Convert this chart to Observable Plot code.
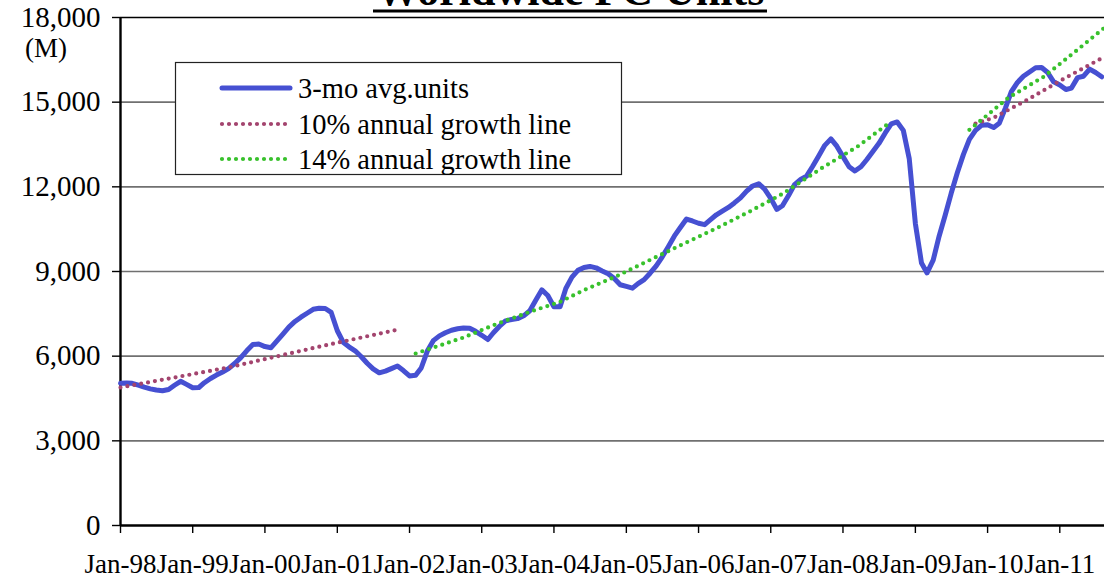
<!DOCTYPE html>
<html>
<head>
<meta charset="utf-8">
<script src="https://cdn.jsdelivr.net/npm/d3@7"></script>
<script src="https://cdn.jsdelivr.net/npm/@observablehq/plot@0.6"></script>
<style>
  html, body { margin: 0; padding: 0; background: #fff; }
  #wrap { position: relative; width: 1104px; height: 580px; overflow: hidden; }
  #overlay { position: absolute; left: 0; top: 0; pointer-events: none; }
  text { font-family: "Liberation Serif", "Times New Roman", serif; }
</style>
</head>
<body>
<div id="wrap"><div id="chart"></div><svg id="overlay" width="1104" height="580"></svg></div>
<script>
// ---- data ----
const title = "Worldwide PC Units";
const unitLabel = "(M)";
const seriesNames = ["3-mo avg.units", "10% annual growth line", "14% annual growth line"];
const startMonth = "1998-01";
// 3-month average units, monthly Jan-98 .. Aug-11
const units = [
  5040,5045,5040,4970,4900,4840,4800,4775,4820,4970,5110,5000,
  4880,4890,5060,5210,5330,5440,5560,5740,5950,6190,6410,6430,
  6340,6300,6530,6780,7030,7230,7380,7520,7660,7700,7690,7550,
  6900,6480,6330,6190,5990,5750,5550,5410,5470,5560,5650,5490,
  5300,5320,5580,6180,6550,6720,6830,6920,6970,7000,6990,6880,
  6740,6590,6830,7060,7250,7300,7330,7430,7610,7980,8350,8150,
  7750,7750,8400,8800,9040,9140,9180,9130,9020,8920,8750,8530,
  8470,8410,8570,8710,8940,9200,9510,9880,10260,10560,10860,10790,
  10710,10660,10830,11010,11140,11270,11430,11610,11850,12030,12110,11920,
  11590,11200,11330,11690,12080,12260,12380,12730,13100,13470,13700,13440,
  13070,12710,12560,12710,12970,13260,13540,13900,14230,14300,14000,13000,
  10700,9300,8950,9400,10250,11000,11770,12500,13150,13680,14000,14180,
  14200,14100,14250,14790,15370,15700,15920,16070,16220,16230,16050,15720,
  15610,15450,15500,15870,15920,16170,16050,15900
];
// 10% growth lines (two segments)
const g10aDates = ["1998-01-01", "1999-07-01", "2000-09-15", "2001-11-15"];
const g10aVals  = [4890, 5600, 6310, 6960];
const g10bDates = ["2009-11-01", "2010-02-01", "2010-07-15", "2011-01-01", "2011-08-15"];
const g10bVals  = [14240, 14450, 15060, 15750, 16610];
// 14% growth lines (two segments)
const g14aDates = ["2002-02-01","2002-10-01","2003-03-15","2003-09-01","2004-02-01","2004-06-01","2004-11-15","2005-05-01","2005-10-15","2006-04-01","2006-09-15","2007-03-01","2007-09-15","2008-03-15","2008-08-15"];
const g14aVals  = [6095,6660,7135,7570,7925,8340,8840,9410,9975,10530,11120,11750,12660,13430,14225];
const g14bDates = ["2009-10-01", "2010-04-15", "2010-10-15", "2011-04-01", "2011-08-15"];
const g14bVals  = [14020, 15150, 15915, 16860, 17640];
// axes
const xTickYears = [1998,1999,2000,2001,2002,2003,2004,2005,2006,2007,2008,2009,2010,2011];
const xTickLabels = ["Jan-98","Jan-99","Jan-00","Jan-01","Jan-02","Jan-03","Jan-04","Jan-05","Jan-06","Jan-07","Jan-08","Jan-09","Jan-10","Jan-11"];
const yTicks = [0, 3000, 6000, 9000, 12000, 15000, 18000];
const yTickLabels = ["0", "3,000", "6,000", "9,000", "12,000", "15,000", "18,000"];
const xDomain = ["1998-01-01", "2011-08-15"];

// ---- build tables ----
const [sy, sm] = startMonth.split("-").map(Number);
const unitsData = units.map((v, i) => ({date: new Date(Date.UTC(sy, sm - 1 + i, 1)), value: v}));
const pts = (ds, vs, seg) => ds.map((d, i) => ({date: new Date(d + "T00:00:00Z"), value: vs[i], seg}));
const g10 = [...pts(g10aDates, g10aVals, "a"), ...pts(g10bDates, g10bVals, "b")];
const g14 = [...pts(g14aDates, g14aVals, "a"), ...pts(g14bDates, g14bVals, "b")];
const xTicks = xTickYears.map(y => new Date(Date.UTC(y, 0, 1)));
const xLabel = new Map(xTicks.map((d, i) => [+d, xTickLabels[i]]));
const yLabel = new Map(yTicks.map((v, i) => [v, yTickLabels[i]]));

const BLUE = "#4650D2", RED = "#A3446E", GREEN = "#38C12C";
const FONT = '"Liberation Serif", "Times New Roman", serif';
const DOTS = "0 7";

const chart = Plot.plot({
  width: 1104, height: 580,
  marginLeft: 120, marginRight: 0, marginTop: 17, marginBottom: 55,
  style: {fontFamily: FONT, background: "#fff", color: "#000"},
  x: {type: "utc", domain: xDomain.map(d => new Date(d + "T00:00:00Z"))},
  y: {domain: [0, 18000]},
  marks: [
    Plot.gridY(yTicks.filter(v => v > 0 && v < 18000), {stroke: "#707070", strokeOpacity: 1, strokeWidth: 1.7}),
    Plot.ruleY([18000], {stroke: "#000", strokeWidth: 1.7}),
    Plot.axisY(yTicks, {tickSize: 8, tickPadding: 12, fontSize: 29, tickFormat: v => yLabel.get(v), label: null, stroke: "#000", strokeWidth: 1.4}),
    Plot.axisX(xTicks, {tickSize: 8, tickPadding: 20, fontSize: 27, tickFormat: d => xLabel.get(+d), label: null, stroke: "#000", strokeWidth: 1.4}),
    Plot.ruleY([0], {stroke: "#000", strokeWidth: 2.4}),
    Plot.ruleX([new Date(xDomain[0] + "T00:00:00Z")], {stroke: "#000", strokeWidth: 2.4}),
    Plot.line(unitsData, {x: "date", y: "value", stroke: BLUE, strokeWidth: 5, strokeLinejoin: "round"}),
    Plot.line(g10, {x: "date", y: "value", z: "seg", stroke: RED, strokeWidth: 4.2, strokeDasharray: DOTS, strokeLinecap: "round"}),
    Plot.line(g14, {x: "date", y: "value", z: "seg", stroke: GREEN, strokeWidth: 4.2, strokeDasharray: DOTS, strokeLinecap: "round"})
  ]
});
document.getElementById("chart").appendChild(chart);

// ---- overlay: title, unit label, legend ----
const ov = d3.select("#overlay");
ov.append("text").attr("x", 570).attr("y", 5).attr("text-anchor", "middle")
  .attr("font-size", 44).attr("font-weight", "bold").attr("fill", "#000").text(title);
ov.append("line").attr("x1", 373).attr("x2", 767).attr("y1", 11).attr("y2", 11).attr("stroke", "#000").attr("stroke-width", 3);
ov.append("text").attr("x", 46).attr("y", 51).attr("text-anchor", "middle").attr("dominant-baseline", "middle")
  .attr("font-size", 27).attr("fill", "#000").text(unitLabel);
const lg = ov.append("g");
lg.append("rect").attr("x", 175.5).attr("y", 62.5).attr("width", 446).attr("height", 112)
  .attr("fill", "#fff").attr("stroke", "#222").attr("stroke-width", 1.2);
const legendRows = [
  {name: seriesNames[0], color: BLUE, dash: null, w: 5, cy: 88},
  {name: seriesNames[1], color: RED, dash: DOTS, w: 4.2, cy: 124},
  {name: seriesNames[2], color: GREEN, dash: DOTS, w: 4.2, cy: 159}
];
legendRows.forEach(r => {
  const ln = lg.append("line").attr("x1", 222).attr("x2", 290).attr("y1", r.cy).attr("y2", r.cy)
    .attr("stroke", r.color).attr("stroke-width", r.w).attr("stroke-linecap", "round");
  if (r.dash) ln.attr("stroke-dasharray", r.dash);
  lg.append("text").attr("x", 298).attr("y", r.cy).attr("dominant-baseline", "central")
    .attr("font-size", 28.5).attr("fill", "#000").text(r.name);
});
</script>
</body>
</html>
